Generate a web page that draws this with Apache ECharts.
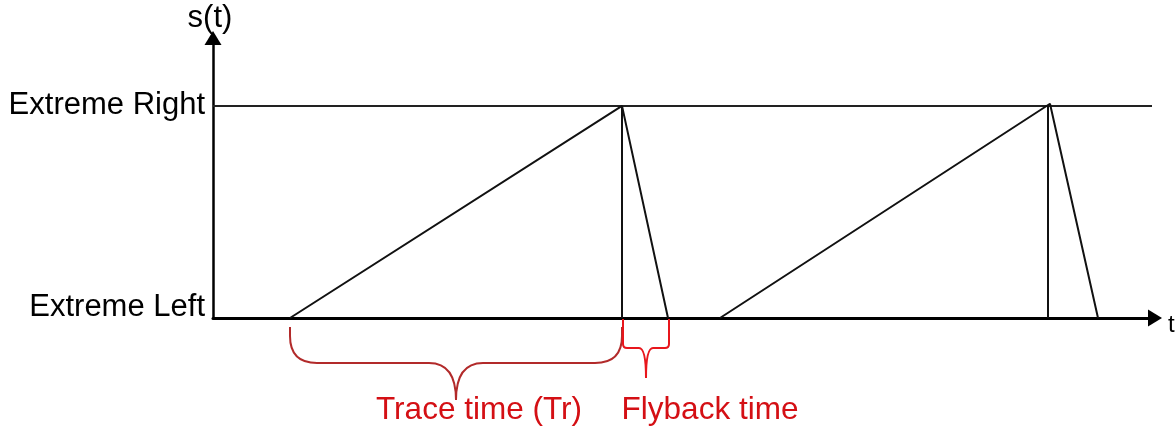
<!DOCTYPE html>
<html>
<head>
<meta charset="utf-8">
<script src="https://cdn.jsdelivr.net/npm/echarts@6/dist/echarts.min.js"></script>
<style>
  html, body { margin: 0; padding: 0; background: #fff; }
  #chart { width: 1176px; height: 427px; }
</style>
</head>
<body>
<div id="chart"></div>
<script>
// 锯齿波（扫描信号）数据，时间单位任意
var traceStart = [77, 507];      // 正程开始
var peakT = [409, 837];          // 到达最右
var peakLevel = [1, 1.01];
var flybackEnd = [455, 885];     // 回程结束
var dropT = [409, 835];          // 竖线位置
var rightLineEnd = 939;

// y轴刻度
var yTickValues = [0, 1];
var yTickLabels = ['Extreme Left', 'Extreme Right'];

// 括号标注
var braceFrom = [77, 410];
var braceTo = [409, 456];
var braceLabels = ['Trace time (Tr)', 'Flyback time'];
var labelAt = [266, 497];

var FONT = "'Liberation Sans', Arial, sans-serif";

var series = [];

// 最右电平水平线
series.push({
  type: 'line',
  data: [[0, 1], [rightLineEnd, 1]],
  symbol: 'none',
  lineStyle: { color: '#222', width: 2 },
  silent: true
});

for (var i = 0; i < traceStart.length; i++) {
  series.push({
    type: 'line',
    data: [[traceStart[i], 0], [peakT[i], peakLevel[i]], [flybackEnd[i], 0]],
    symbol: 'none',
    lineStyle: { color: '#111', width: 2 },
    silent: true
  });
  series.push({
    type: 'line',
    data: [[dropT[i], 0], [dropT[i], 1]],
    symbol: 'none',
    lineStyle: { color: '#111', width: 2 },
    silent: true
  });
}

// 括号样式：按序号
var braceStyle = [
  { drop: 9, depth: 36, r: 27, cusp: 27, tip: 37, color: '#b22a2a' },
  { drop: 1, depth: 29, r: 4, cusp: 7, tip: 30, color: '#e8161c' }
];

series.push({
  type: 'custom',
  clip: false,
  silent: true,
  data: braceFrom.map(function (f, k) { return [f, braceTo[k], labelAt[k], k]; }),
  encode: { x: [0, 1, 2] },
  renderItem: function (params, api) {
    var k = api.value(3);
    var s = braceStyle[k];
    var p1 = api.coord([api.value(0), 0]);
    var p2 = api.coord([api.value(1), 0]);
    var pl = api.coord([api.value(2), 0]);
    var x1 = p1[0], x2 = p2[0], xm = (x1 + x2) / 2;
    var y0 = p1[1] + s.drop;
    var yh = y0 + s.depth;
    var yt = yh + s.tip;
    var r = s.r, c = s.cusp;
    var path =
      'M' + x1 + ',' + y0 +
      'L' + x1 + ',' + (yh - r) +
      'Q' + x1 + ',' + yh + ',' + (x1 + r) + ',' + yh +
      'L' + (xm - c) + ',' + yh +
      'Q' + xm + ',' + yh + ',' + xm + ',' + yt +
      'M' + xm + ',' + yt +
      'Q' + xm + ',' + yh + ',' + (xm + c) + ',' + yh +
      'L' + (x2 - r) + ',' + yh +
      'Q' + x2 + ',' + yh + ',' + x2 + ',' + (yh - r) +
      'L' + x2 + ',' + y0;
    return {
      type: 'group',
      children: [
        {
          type: 'path',
          shape: { pathData: path },
          style: { fill: 'none', stroke: s.color, lineWidth: 2 }
        },
        {
          type: 'text',
          style: {
            text: braceLabels[k],
            x: pl[0],
            y: p1[1] + 92,
            fill: '#d40f14',
            font: '31.5px ' + FONT,
            align: 'center',
            verticalAlign: 'middle'
          }
        }
      ]
    };
  }
});

var chart = echarts.init(document.getElementById('chart'));
chart.setOption({
  animation: false,
  backgroundColor: '#fff',
  grid: { left: 213, right: 21, top: 38, bottom: 109, outerBoundsMode: 'none' },
  xAxis: {
    type: 'value',
    min: 0,
    max: 942,
    name: 't',
    nameLocation: 'end',
    nameGap: 13,
    nameTextStyle: { fontFamily: FONT, fontSize: 24, color: '#000', verticalAlign: 'top', lineHeight: 14 },
    axisLine: { show: true, symbol: ['none', 'triangle'], symbolSize: [17, 14], lineStyle: { color: '#000', width: 3 } },
    axisTick: { show: false },
    axisLabel: { show: false },
    splitLine: { show: false }
  },
  yAxis: {
    type: 'value',
    min: 0,
    max: 1.32,
    interval: 1,
    name: 's(t)',
    nameLocation: 'end',
    nameGap: 4,
    nameTextStyle: { fontFamily: FONT, fontSize: 31, color: '#000', align: 'center', padding: [0, 6, 0, 0] },
    axisLine: { show: true, symbol: ['none', 'triangle'], symbolSize: [17, 14], lineStyle: { color: '#000', width: 2.5 } },
    axisTick: { show: false },
    splitLine: { show: false },
    axisLabel: {
      margin: 8,
      fontFamily: FONT,
      fontSize: 31,
      color: '#000',
      formatter: function (v) {
        var idx = yTickValues.indexOf(v);
        if (idx < 0) return '';
        return idx === 0 ? '{lo|' + yTickLabels[idx] + '}' : yTickLabels[idx];
      },
      rich: {
        lo: { fontFamily: FONT, fontSize: 31, color: '#000', padding: [0, 0, 22, 0] }
      }
    }
  },
  series: series
});
</script>
</body>
</html>
